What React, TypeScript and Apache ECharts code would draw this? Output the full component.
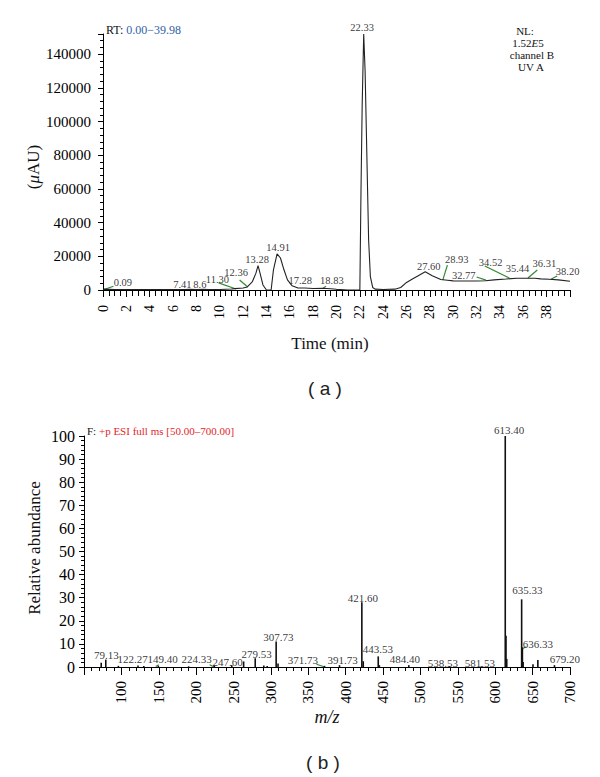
import React, { useEffect, useRef } from "react";
import * as echarts from "echarts";

// ---------- (a) chromatogram ----------
const rtTime = [0, 0.09, 1, 5, 7, 7.41, 8, 8.6, 9, 10, 11, 11.3, 12, 12.36, 12.8, 13.1, 13.28, 13.45, 13.7, 14.0, 14.4, 14.6, 14.91, 15.2, 15.5, 15.8, 16.2, 16.7, 17.28, 18, 18.83, 19.5, 20, 21, 22.0, 22.05, 22.1, 22.2, 22.33, 22.45, 22.6, 22.75, 22.9, 23.1, 23.3, 24, 25, 25.5, 26, 26.5, 27, 27.6, 28.2, 28.93, 29.5, 30, 31, 32, 32.77, 33.5, 34.52, 35.44, 36.31, 37, 37.5, 38.2, 39, 40];
const rtSignal = [300, 500, 300, 300, 300, 400, 300, 400, 300, 300, 600, 800, 1200, 1800, 5000, 10000, 14500, 10000, 3000, 0, 0, 12000, 21500, 19000, 12000, 6000, 2500, 1200, 1200, 900, 1000, 700, 400, 0, 0, 0, 60000, 110000, 152000, 130000, 80000, 30000, 8000, 1500, 500, 300, 500, 1500, 4500, 6500, 8500, 10800, 8500, 6200, 5800, 5400, 5300, 5300, 5500, 6000, 6500, 7000, 7000, 7000, 6600, 6400, 6000, 5200];

const topPeakText = ["0.09", "7.41", "8.6", "11.30", "12.36", "13.28", "14.91", "17.28", "18.83", "22.33", "27.60", "28.93", "32.77", "34.52", "35.44", "36.31", "38.20"];
// label anchor positions (time, signal)
const topLabelT = [1.7, 6.8, 8.3, 9.8, 11.4, 13.2, 15.0, 16.9, 19.6, 22.2, 27.9, 30.3, 30.9, 33.2, 35.5, 37.8, 39.8];
const topLabelV = [4700, 3000, 3500, 6500, 10300, 18400, 25500, 5600, 5900, 156000, 14200, 18400, 8900, 16600, 12500, 16000, 10700];
const topLeaders = [
  [[0.09, 300], [0.9, 2200]],
  [[9.9, 4200], [11.4, 600]],
  [[11.7, 5900], [12.4, 1800]],
  [[18.83, 900], [19.1, 2300]],
  [[29.1, 5900], [29.5, 14800]],
  [[32.0, 7700], [32.8, 5900]],
  [[32.7, 14200], [34.8, 7100]],
  [[36.4, 7100], [37.2, 11900]],
  [[38.4, 6500], [38.9, 8300]],
];

// ---------- (b) mass spectrum ----------
const mzValues = [73, 79.13, 96, 122.27, 130, 149.4, 190, 224.33, 247.6, 263.5, 279.0, 290.5, 295, 307.0, 309.5, 371.73, 391.73, 421.6, 423.5, 443.53, 445, 484.4, 538.53, 581.53, 613.4, 614.4, 615.4, 635.33, 636.33, 637.3, 650.5, 657.0, 679.2];
const mzAbundance = [1.8, 3.2, 0.5, 0.6, 0.4, 0.5, 0.3, 0.6, 0.8, 2.4, 3.8, 0.6, 0.4, 11.0, 1.5, 0.5, 0.8, 28.0, 2.5, 4.6, 0.8, 0.8, 0.3, 0.3, 100, 13.5, 3.5, 29.3, 8.5, 2.2, 1.2, 3.0, 0.8];

const msPeakText = ["79.13", "122.27", "149.40", "224.33", "247.60", "279.53", "307.73", "371.73", "391.73", "421.60", "443.53", "484.40", "538.53", "581.53", "613.40", "635.33", "636.33", "679.20"];
const msLabelMz = [80, 115, 155, 200.7, 242, 281, 310, 342.6, 396, 423, 443, 479, 530, 579.5, 618.5, 643, 657, 693];
const msLabelV = [5.2, 3.5, 3.5, 3.5, 2.3, 5.5, 13.1, 3.0, 3.0, 30, 7.8, 3.5, 1.9, 1.9, 102.6, 33.3, 10, 3.3];
const msLeaders = [
  [[146, 0.2], [150, 1.0]],
  [[218, 1.0], [224.33, 0]],
  [[361, 1.2], [372, 0]],
  [[634.8, 7.7], [641.5, 8.8]],
];

const SERIF = "'Liberation Serif', 'DejaVu Serif', serif";
const GREEN = "#2f8a2f";

function axisCommon(extra: any) {
  return {
    type: "value",
    axisLine: { show: true, onZero: false, lineStyle: { color: "#000", width: 1 } },
    splitLine: { show: false },
    ...extra,
  };
}

export default function App() {
  const ref = useRef<HTMLDivElement>(null);
  useEffect(() => {
    if (!ref.current) return;
    const chart = echarts.init(ref.current, null, { renderer: "svg" });
    const option: any = {
      animation: false,
      backgroundColor: "#fff",
      grid: [
        { left: 103, right: 30, top: 34, bottom: 487 },
        { left: 84, right: 30, top: 436, bottom: 110 },
      ],
      xAxis: [
        axisCommon({
          gridIndex: 0,
          min: 0,
          max: 40,
          interval: 2,
          axisTick: { length: 7, lineStyle: { color: "#000" } },
          minorTick: { show: true, splitNumber: 4, length: 6, lineStyle: { color: "#000" } },
          axisLabel: { rotate: 90, fontSize: 14, color: "#000", fontFamily: SERIF, margin: 15, showMaxLabel: false },
        }),
        axisCommon({
          gridIndex: 1,
          min: 50,
          max: 700,
          interval: 50,
          axisTick: { length: 8, lineStyle: { color: "#000" } },
          minorTick: { show: true, splitNumber: 5, length: 4, lineStyle: { color: "#000" } },
          axisLabel: {
            rotate: 90, fontSize: 15, color: "#000", fontFamily: SERIF, margin: 14,
            formatter: (v: number) => (v === 50 ? "" : String(v)),
          },
        }),
      ],
      yAxis: [
        axisCommon({
          gridIndex: 0,
          min: 0,
          max: 152000,
          interval: 20000,
          axisTick: { length: 5, lineStyle: { color: "#000" } },
          minorTick: { show: true, splitNumber: 5, length: 3, lineStyle: { color: "#000" } },
          axisLabel: { fontSize: 15, color: "#000", fontFamily: SERIF, margin: 12, showMaxLabel: false, formatter: (v: number) => String(v) },
        }),
        axisCommon({
          gridIndex: 1,
          min: 0,
          max: 100,
          interval: 10,
          axisTick: { length: 5, lineStyle: { color: "#000" } },
          minorTick: { show: true, splitNumber: 5, length: 3, lineStyle: { color: "#000" } },
          axisLabel: { fontSize: 16, color: "#000", fontFamily: SERIF, margin: 9 },
        }),
      ],
      series: [
        {
          type: "line",
          xAxisIndex: 0,
          yAxisIndex: 0,
          data: rtTime.map((t, i) => [t, rtSignal[i]]),
          symbol: "none",
          lineStyle: { color: "#222", width: 1.1 },
          silent: true,
        },
        {
          type: "scatter",
          xAxisIndex: 0,
          yAxisIndex: 0,
          clip: false,
          symbolSize: 0,
          silent: true,
          data: topPeakText.map((s, i) => ({ name: s, value: [topLabelT[i], topLabelV[i]] })),
          label: {
            show: true,
            position: "inside",
            formatter: (p: any) => p.name,
            fontSize: 10.5,
            fontFamily: SERIF,
            color: "#000",
          },
        },
        {
          type: "lines",
          coordinateSystem: "cartesian2d",
          xAxisIndex: 0,
          yAxisIndex: 0,
          silent: true,
          lineStyle: { color: GREEN, width: 1.2, opacity: 1 },
          data: topLeaders.map((c) => ({ coords: c })),
        },
        {
          type: "bar",
          xAxisIndex: 1,
          yAxisIndex: 1,
          barWidth: 1.6,
          silent: true,
          itemStyle: { color: "#111" },
          data: mzValues.map((m, i) => [m, mzAbundance[i]]),
        },
        {
          type: "scatter",
          xAxisIndex: 1,
          yAxisIndex: 1,
          clip: false,
          symbolSize: 0,
          silent: true,
          data: msPeakText.map((s, i) => ({ name: s, value: [msLabelMz[i], msLabelV[i]] })),
          label: {
            show: true,
            position: "inside",
            formatter: (p: any) => p.name,
            fontSize: 11,
            fontFamily: SERIF,
            color: "#000",
          },
        },
        {
          type: "lines",
          coordinateSystem: "cartesian2d",
          xAxisIndex: 1,
          yAxisIndex: 1,
          silent: true,
          lineStyle: { color: GREEN, width: 1.2, opacity: 1 },
          data: msLeaders.map((c) => ({ coords: c })),
        },
      ],
      graphic: [
        {
          type: "text", x: 106, y: 30,
          style: {
            text: "{k|RT: }{b|0.00\u221239.98}", verticalAlign: "middle", align: "left",
            rich: { k: { fontSize: 12, fontFamily: SERIF, fill: "#111" }, b: { fontSize: 12, fontFamily: SERIF, fill: "#2f62a6" } },
          },
        },
        { type: "text", x: 525, y: 31, style: { text: "NL:", fontSize: 11, fontFamily: SERIF, fill: "#111", align: "center", verticalAlign: "middle" } },
        {
          type: "text", x: 528, y: 43,
          style: {
            text: "{n|1.52}{i|E}{n|5}", align: "center", verticalAlign: "middle",
            rich: { n: { fontSize: 11, fontFamily: SERIF, fill: "#111", lineHeight: 11 }, i: { fontSize: 11, fontFamily: SERIF, fontStyle: "italic", fill: "#111", lineHeight: 11 } },
          },
        },
        { type: "text", x: 532, y: 55, style: { text: "channel B", fontSize: 11, fontFamily: SERIF, fill: "#111", align: "center", verticalAlign: "middle" } },
        { type: "text", x: 531, y: 67, style: { text: "UV A", fontSize: 11, fontFamily: SERIF, fill: "#111", align: "center", verticalAlign: "middle" } },
        {
          type: "text", x: 33, y: 167, rotation: Math.PI / 2,
          style: {
            text: "{n|(}{i|\u03bc}{n|AU)}", align: "center", verticalAlign: "middle",
            rich: { n: { fontSize: 17, fontFamily: SERIF, fill: "#111" }, i: { fontSize: 17, fontFamily: SERIF, fontStyle: "italic", fill: "#111" } },
          },
        },
        { type: "text", x: 330, y: 343, style: { text: "Time (min)", fontSize: 17, fontFamily: SERIF, fill: "#111", align: "center", verticalAlign: "middle" } },
        { type: "text", x: 325, y: 388, style: { text: "( a )", fontSize: 19, fontFamily: "'Liberation Sans', Arial, sans-serif", fill: "#222", align: "center", verticalAlign: "middle" } },
        {
          type: "text", x: 87, y: 431,
          style: {
            text: "{k|F: }{r|+p ESI full ms [50.00\u2013700.00]}", align: "left", verticalAlign: "middle",
            rich: { k: { fontSize: 11, fontFamily: SERIF, fill: "#111" }, r: { fontSize: 11, fontFamily: SERIF, fill: "#e3262b" } },
          },
        },
        { type: "text", x: 34, y: 548, rotation: Math.PI / 2, style: { text: "Relative abundance", fontSize: 17, fontFamily: SERIF, fill: "#111", align: "center", verticalAlign: "middle" } },
        { type: "text", x: 327, y: 717, style: { text: "m/z", fontSize: 18, fontFamily: SERIF, fontStyle: "italic", fill: "#111", align: "center", verticalAlign: "middle" } },
        { type: "text", x: 323, y: 762, style: { text: "( b )", fontSize: 19, fontFamily: "'Liberation Sans', Arial, sans-serif", fill: "#222", align: "center", verticalAlign: "middle" } },
      ],
    };
    chart.setOption(option);
    return () => chart.dispose();
  }, []);
  return <div ref={ref} style={{ position: "fixed", left: 0, top: 0, width: 600, height: 777 }} />;
}
